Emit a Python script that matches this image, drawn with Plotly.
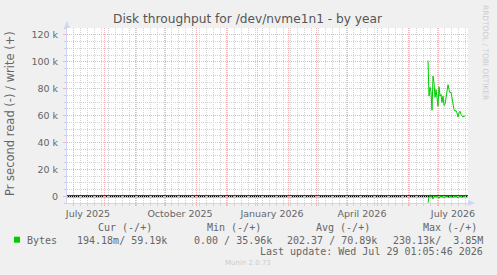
import plotly.graph_objects as go
import pandas as pd

# ---------------- data ----------------
start_date = "2026-06-21"
write_bps = [101000, 74500, 81000, 78000, 64000, 89400, 84700, 73500, 79500, 72000,
             67000, 81500, 74500, 75800, 69800, 74500, 67600, 68300, 74500, 80000,
             83000, 79500, 77000, 77500, 72000, 69600, 64600, 63300, 63800, 62000,
             59000, 62000, 63300, 60900, 59600, 59000, 59600, 59600]
read_bps = [4800, 300, 200, 400, 200, 2000, 300, 150, 150, 150,
            150, 1500, 150, 150, 150, 150, 1200, 150, 150, 150,
            150, 1200, 150, 150, 150, 1000, 150, 150, 150, 150,
            1200, 150, 150, 150, 1000, 150, 150, 150]
dates = pd.date_range(start_date, periods=len(write_bps), freq="D")

y_ticks = [0, 20000, 40000, 60000, 80000, 100000, 120000]
y_tick_text = ["0", "20 k", "40 k", "60 k", "80 k", "100 k", "120 k"]
month_ticks = pd.date_range("2025-07-01", "2026-07-01", freq="MS")
label_months = {"2025-07": "July 2025", "2025-10": "October 2025", "2026-01": "January 2026",
                "2026-04": "April 2026", "2026-07": "July 2026"}
month_text = [label_months.get(d.strftime("%Y-%m"), "") for d in month_ticks]
week_ticks = pd.date_range("2025-06-24", "2026-07-31", freq="7D")

title = "Disk throughput for /dev/nvme1n1 - by year"
y_title = "Pr second read (-) / write (+)"
legend_headers = ["Cur (-/+)", "Min (-/+)", "Avg (-/+)", "Max (-/+)"]
legend_name = "Bytes"
legend_values = ["194.18m/ 59.19k", "0.00 / 35.96k", "202.37 / 70.89k", "230.13k/  3.85M"]
last_update = "Last update: Wed Jul 29 01:05:46 2026"
footer = "Munin 2.0.73"
side_text = "RRDTOOL / TOBI OETIKER"

# ---------------- layout helpers ----------------
W_IMG, H_IMG = 497, 275
L, R, T, B = 67, 468, 28, 203
PW, PH = R - L, B - T


def px(x):
    return (x - L) / PW


def py(y):
    return (B - y) / PH


GREEN = "#00CC00"
FONT = "#666666"
AXIS = "#CFD6F8"
MGRID = "#F4B4B4"
GRID = "#D2D2D2"

fig = go.Figure()
fig.add_trace(go.Scatter(x=dates, y=write_bps, mode="lines",
                         line=dict(color=GREEN, width=1), hoverinfo="skip", showlegend=False))
fig.add_trace(go.Scatter(x=dates, y=[-v for v in read_bps], mode="lines",
                         line=dict(color=GREEN, width=1), hoverinfo="skip", showlegend=False))

fig.update_layout(
    width=W_IMG, height=H_IMG,
    margin=dict(l=L, r=W_IMG - R, t=T, b=H_IMG - B, pad=0),
    paper_bgcolor="#F0F0F0", plot_bgcolor="#FFFFFF",
    showlegend=False,
    font=dict(family="DejaVu Sans", color=FONT, size=9.5),
)

fig.update_xaxes(
    type="date", range=["2025-06-25", "2026-07-31"],
    tickvals=list(month_ticks), ticktext=month_text, ticklabelshift=15,
    showgrid=True, gridcolor=MGRID, griddash="1px,1px", gridwidth=1,
    ticks="outside", ticklen=2, tickcolor=MGRID,
    showline=True, linecolor=AXIS, linewidth=1,
    zeroline=False, tickfont=dict(size=9.5, color=FONT),
    minor=dict(tickvals=list(week_ticks), showgrid=True, gridcolor=GRID,
               griddash="1px,1px", gridwidth=1, ticks="outside", ticklen=2, tickcolor=GRID),
)
fig.update_yaxes(
    range=[-5000, 125200],
    tickvals=y_ticks, ticktext=y_tick_text,
    showgrid=True, gridcolor=MGRID, griddash="1px,1px", gridwidth=1,
    ticks="outside", ticklen=3, tickcolor=MGRID,
    showline=True, linecolor=AXIS, linewidth=1,
    zeroline=False, tickfont=dict(size=9.5, color=FONT),
    ticklabelstandoff=3,
    minor=dict(dtick=5000, showgrid=True, gridcolor=GRID, griddash="1px,1px", gridwidth=1,
               ticks="outside", ticklen=2, tickcolor=GRID),
)

# zero line
fig.add_shape(type="line", xref="paper", yref="y", x0=0, x1=1, y0=0, y1=0,
              line=dict(color="#000000", width=2), layer="below")
# axis arrows
fig.add_shape(type="path", xref="paper", yref="paper", xsizemode="pixel", ysizemode="pixel",
              xanchor=0, yanchor=1, path="M -3,0 L 3,0 L 0,7 Z",
              fillcolor=AXIS, line=dict(color=AXIS, width=0))
fig.add_shape(type="line", xref="paper", yref="paper", xsizemode="pixel", ysizemode="pixel",
              xanchor=0, yanchor=1, x0=0, x1=0, y0=0, y1=2, line=dict(color=AXIS, width=1))
fig.add_shape(type="path", xref="paper", yref="paper", xsizemode="pixel", ysizemode="pixel",
              xanchor=1, yanchor=0, path="M 0,-3 L 0,3 L 7,0 Z",
              fillcolor=AXIS, line=dict(color=AXIS, width=0))

# legend square
fig.add_shape(type="rect", xref="paper", yref="paper",
              x0=px(14), x1=px(20), y0=py(242.7), y1=py(236.7),
              fillcolor=GREEN, line=dict(width=0))


def ann(text, x, y, size, color=FONT, family="DejaVu Sans", xanchor="left", angle=0):
    fig.add_annotation(text=text, x=px(x), y=py(y), xref="paper", yref="paper",
                       xanchor=xanchor, yanchor="middle", showarrow=False,
                       textangle=angle, borderpad=0, borderwidth=0,
                       font=dict(size=size, color=color, family=family))


ann(title, 248.3, 18.5, 12.2, color="#555555", xanchor="center")
ann(y_title, 10, 114, 11.5, xanchor="center", angle=-90)
ann(side_text, 486, 52, 7.4, color="#CCCCCC", xanchor="center", angle=90)

MONO = "DejaVu Sans Mono"
for txt, x in zip(legend_headers, [98.3, 206.7, 316, 422.7]):
    ann(txt, x, 227.3, 10, family=MONO)
ann(legend_name, 26.7, 240, 10, family=MONO)
for txt, x in zip(legend_values, [77.3, 194.3, 287.3, 392.7]):
    ann(txt.replace(" ", "\u00a0"), x, 240, 10, family=MONO)
ann(last_update.replace(" ", "\u00a0"), 482.7, 251.7, 10, family=MONO, xanchor="right")
ann(footer, 248, 263.3, 7, color="#CCCCCC", xanchor="center")

fig.write_html("out.html")
